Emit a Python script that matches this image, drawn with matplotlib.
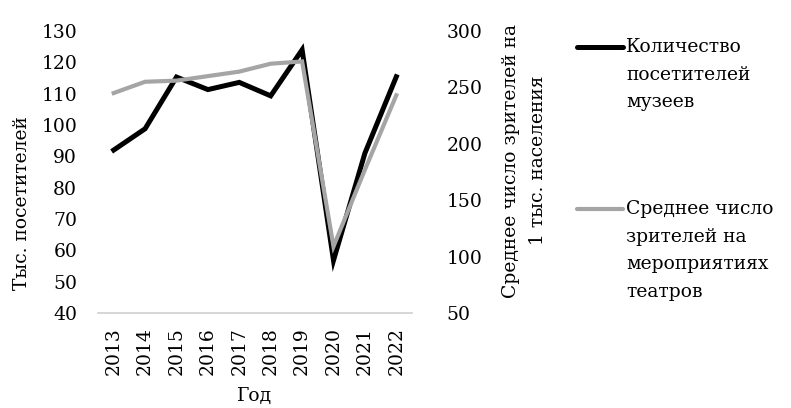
import numpy as np
import matplotlib
matplotlib.use("Agg")
import matplotlib.pyplot as plt
from matplotlib.lines import Line2D

plt.rcParams['font.family'] = ['DejaVu Serif']
plt.rcParams['font.size'] = 13.5

years = ['2013', '2014', '2015', '2016', '2017', '2018', '2019', '2020', '2021', '2022']
museums = [92, 98.8, 115.3, 111.3, 113.6, 109.3, 124, 56.8, 91, 115.4]
theatres = [245, 255, 256, 260, 264, 271, 273, 109, 177, 243]

museum_label = 'Количество\nпосетителей\nмузеев'
theatre_label = 'Среднее число\nзрителей на\nмероприятиях\nтеатров'

W, H = 791, 408
fig = plt.figure(figsize=(W / 100, H / 100), dpi=100)
ax = fig.add_axes([98 / W, 1 - 313 / H, 314 / W, 282 / H])
ax2 = ax.twinx()

x = np.arange(len(years))
ax.plot(x, museums, color='black', lw=3.6, solid_joinstyle='miter')
ax2.plot(x, theatres, color='#a5a5a5', lw=3.0, solid_joinstyle='miter')

ax.set_xlim(-0.5, len(years) - 0.5)
ax.set_ylim(40, 130)
ax.set_yticks(range(40, 131, 10))
ax2.set_ylim(50, 300)
ax2.set_yticks(range(50, 301, 50))
ax.set_xticks(x)
ax.set_xticklabels(years, rotation=90)

for a in (ax, ax2):
    for s in ('left', 'right', 'top', 'bottom'):
        a.spines[s].set_visible(False)
    a.tick_params(length=0)
ax.spines['bottom'].set_visible(True)
ax.spines['bottom'].set_color('#d0d0d0')
ax.spines['bottom'].set_linewidth(1.2)

ax.tick_params(axis='y', pad=15)
ax.tick_params(axis='x', pad=10)
ax2.tick_params(axis='y', pad=25)
for lbl in ax2.get_yticklabels():
    lbl.set_horizontalalignment('left')

ax.set_xlabel('Год', labelpad=9)
ax.set_ylabel('Тыс. посетителей')
ax.yaxis.set_label_coords(-0.213, 0.39)
ax2.set_ylabel('Среднее число зрителей на\n1 тыс. населения', linespacing=1.65)
ax2.yaxis.set_label_coords(1.287, 0.54)

# legend drawn by hand so the key sits beside the first line of each label
for y0, col, lw, txt in ((47, 'black', 3.6, museum_label),
                         (209, '#a5a5a5', 3.0, theatre_label)):
    fig.add_artist(Line2D([577 / W, 623 / W], [1 - y0 / H] * 2, color=col, lw=lw,
                          solid_capstyle='round', transform=fig.transFigure))
    fig.text(626 / W, 1 - (y0 - 9) / H, txt, va='top', ha='left', linespacing=1.68)

fig.savefig('out.png', dpi=100)
